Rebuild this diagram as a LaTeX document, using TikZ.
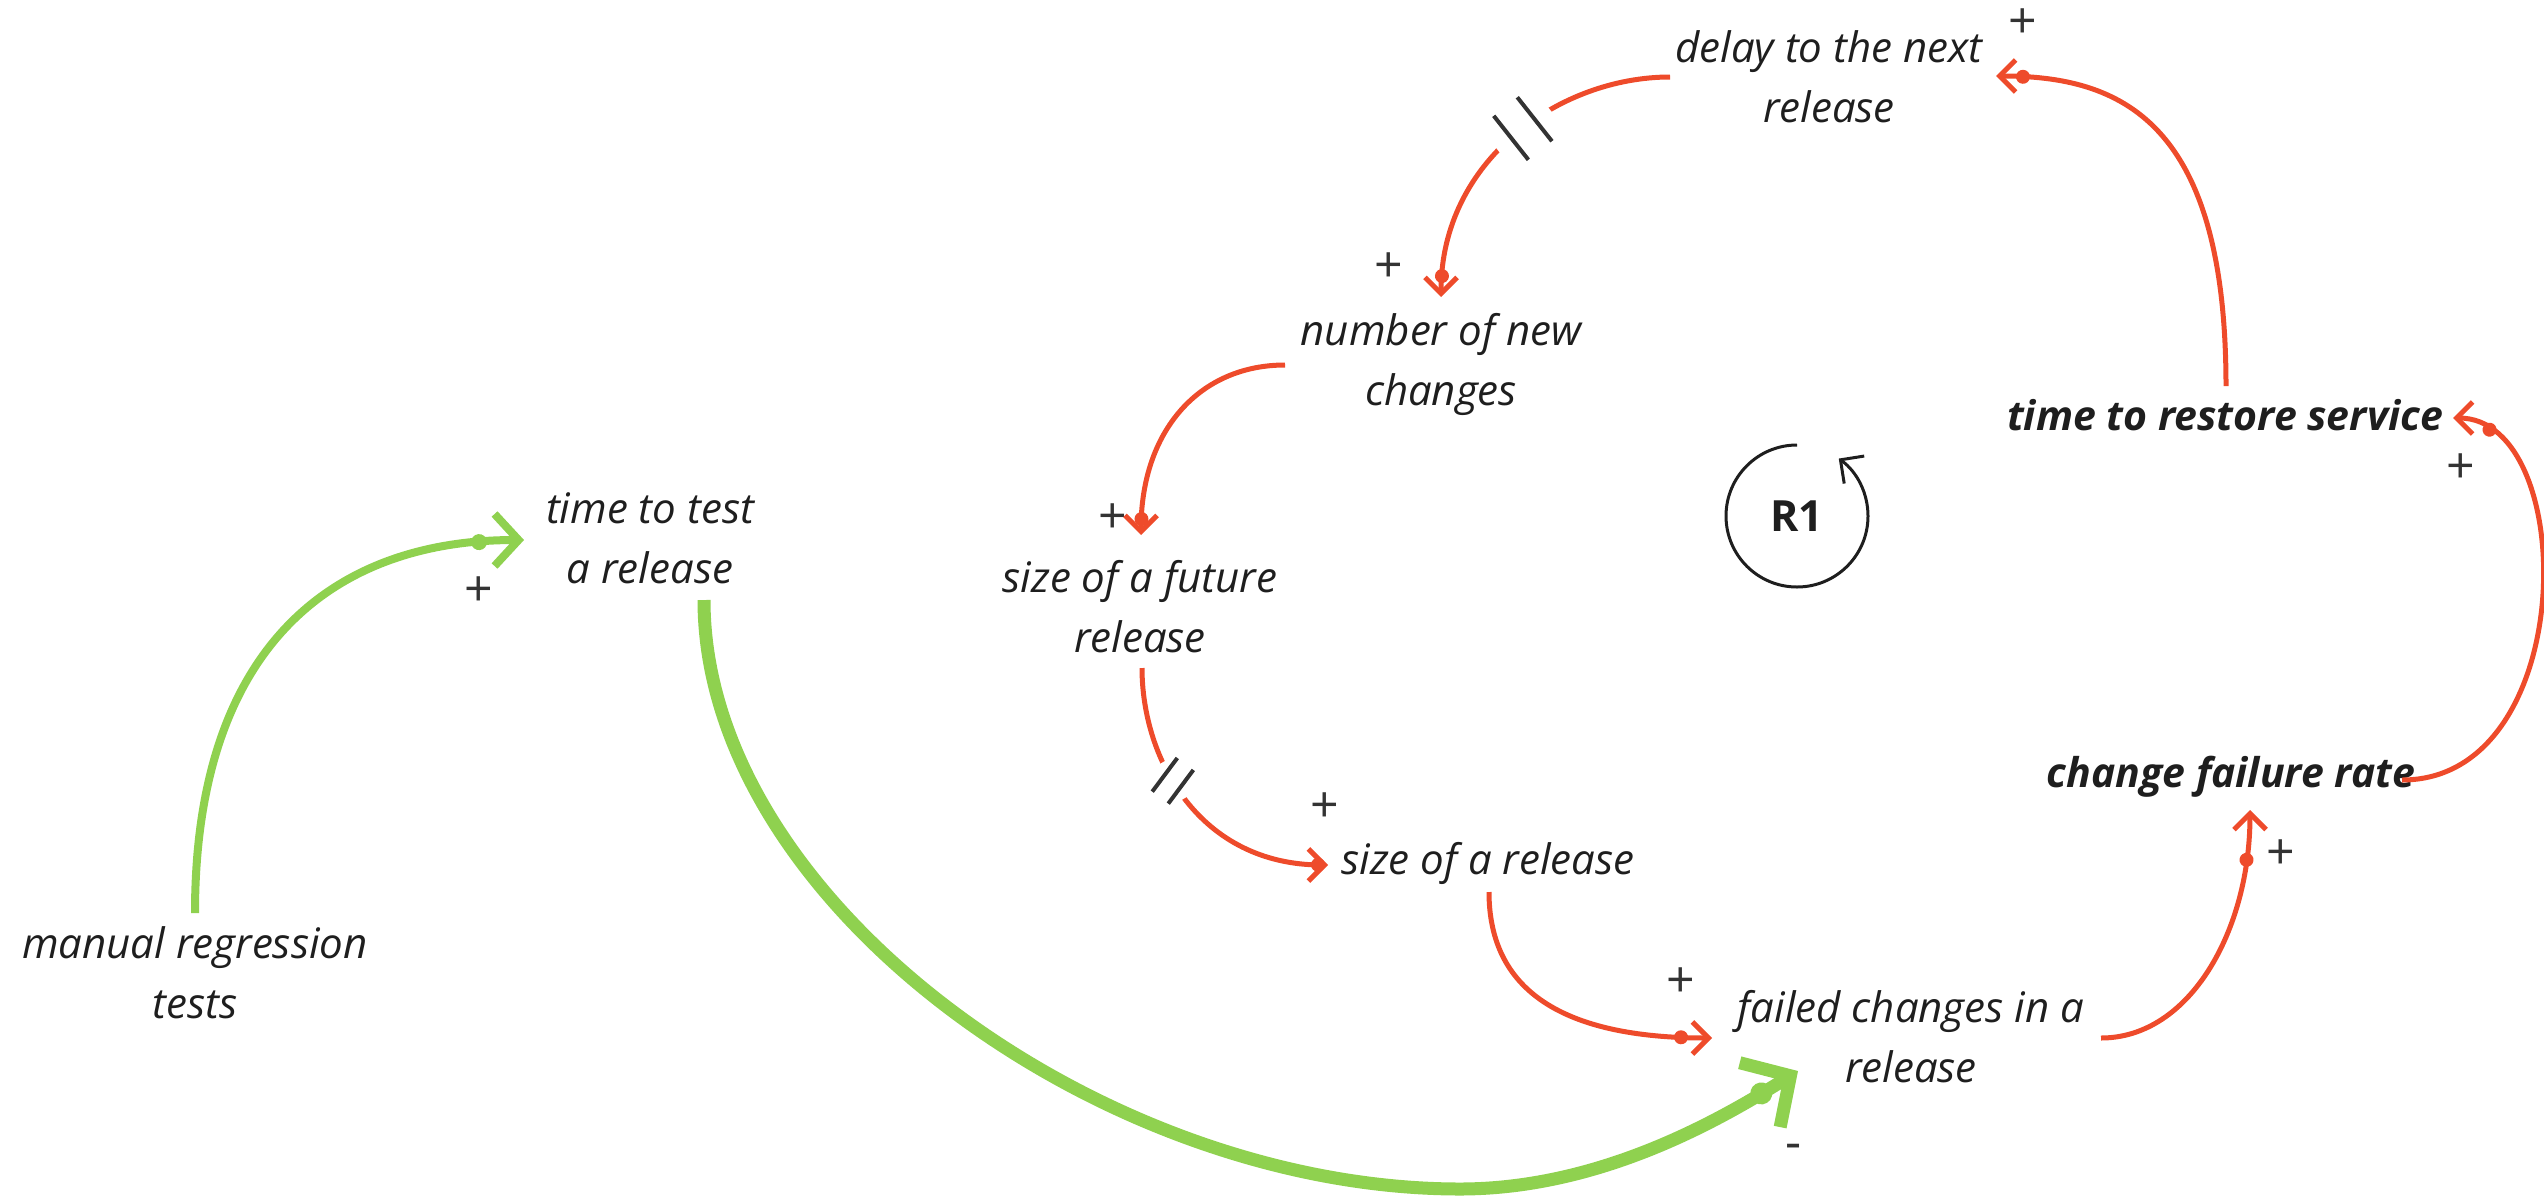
\documentclass[tikz,border=0pt]{standalone}
\usepackage{fontspec}
\setmainfont{Open Sans}
\usetikzlibrary{arrows.meta,calc,decorations.markings}
\definecolor{linkred}{HTML}{EE4B2B}
\definecolor{linkgreen}{HTML}{8FD14F}
\definecolor{ink}{HTML}{1E1E1E}
\definecolor{signgray}{HTML}{333333}
\tikzset{
  var/.style={font=\fontsize{42}{60}\selectfont\itshape, text=ink, align=center, inner sep=0pt},
  keyvar/.style={font=\fontsize{41}{60}\selectfont\bfseries\itshape, text=ink, align=center, inner sep=0pt},
  loopname/.style={font=\fontsize{43}{43}\selectfont\bfseries, text=ink, inner sep=0pt},
  sign/.style={font=\fontsize{50}{50}\selectfont, text=signgray, inner sep=0pt},
  redlink/.style={draw=linkred, line width=5pt, -{Straight Barb[length=16pt,width=32pt]}},
  thingreen/.style={draw=linkgreen, line width=8pt, -{Straight Barb[length=24pt,width=52pt]}},
  thickgreen/.style={draw=linkgreen, line width=13pt, -{Straight Barb[length=36pt,width=76pt]}},
  reddot/.style={postaction={decorate, decoration={markings,
      mark=at position -#1 with {\fill[linkred] (0,0) circle (7pt);}}}},
  greendot/.style 2 args={postaction={decorate, decoration={markings,
      mark=at position -#1 with {\fill[linkgreen] (0,0) circle (#2);}}}},
  % delay sign: position, tilt, half length, half spacing, half gap
  delaymark/.style n args={5}{postaction={decorate, decoration={markings,
      mark=at position #1 with {
        \fill[white] (-#5,-7) rectangle (#5,7);
        \begin{scope}[rotate=#2]
          \draw[-, signgray, line width=4pt] (-#4,-#3) -- (-#4,#3) (#4,-#3) -- (#4,#3);
        \end{scope}}}}},
  loopline/.style={draw=ink, line width=3pt, -{Straight Barb[length=17pt,width=34pt]}}
}
\begin{document}
\begin{tikzpicture}[x=1pt,y=-1pt]
\useasboundingbox (0,0) rectangle (2544,1195);

% variables of the loop
\node[var] (delay) at (1829,77) {delay to the next\\release};
\node[var] (num) at (1441,364) {number of new\\changes};
\node[var] (sfr) at (1140,607) {size of a future\\release};
\node[var] (sr) at (1488,863) {size of a release};
\node[var] (fc) at (1911,1037) {failed changes in a\\release};
\node[keyvar] (cfr) at (2231,777) {change failure rate};
\node[keyvar] (trs) at (2225,415) {time to restore service};
\node[var] (ttt) at (650,538) {time to test\\a release};
\node[var] (mrt) at (195,973) {manual regression\\tests};

% reinforcing loop marker
\node[loopname] (r1) at (1797,516) {R1};
\draw[loopline] ($(r1)+(-90:71)$) arc[start angle=-90, end angle=-414, radius=71];

% polarity signs
\node[sign] (sa) at (2023,24) {+};
\node[sign] (sb) at (1389,268) {+};
\node[sign] (sc) at (1113,519) {+};
\node[sign] (sd) at (1325,808) {+};
\node[sign] (se) at (1681,983) {+};
\node[sign] (sf) at (2281,855) {+};
\node[sign] (sg) at (2461,469) {+};
\node[sign] (sh) at (479,592) {+};
\node[sign] (si) at (1794,1152) {-};

% causal links of the loop
\draw[redlink, reddot=27pt] ($(trs)+(1,-29)$) .. controls +(0,-266) and +(124,0) .. ($(delay)+(167,-1)$);
\draw[redlink, reddot=21pt, delaymark={0.45}{0}{28}{15}{33}] ($(delay)+(-159,0)$) .. controls +(-110,0) and +(0,-137) .. ($(num)+(0,-67)$);
\draw[redlink, reddot=16pt] ($(num)+(-156,1)$) .. controls +(-85,0) and +(0,-105) .. ($(sfr)+(1,-72)$);
\draw[redlink, reddot=10pt, delaymark={0.39}{22}{21}{10}{21}] ($(sfr)+(2,61)$) .. controls +(0,92) and +(-128,0) .. ($(sr)+(-160,2)$);
\draw[redlink, reddot=31pt] ($(sr)+(1,29)$) .. controls +(0,98) and +(-150,0) .. ($(fc)+(-199,1)$);
\draw[redlink, reddot=50pt] ($(fc)+(190,1)$) .. controls +(89,0) and +(0,120) .. ($(cfr)+(19,33)$);
\draw[redlink, reddot=39pt] ($(cfr)+(171,3)$) .. controls +(178,0) and +(127,0) .. ($(trs)+(228,3)$);

% testing links
\draw[thingreen, greendot={45pt}{8pt}] ($(mrt)+(0,-60)$) .. controls +(0,-263) and +(-194,0) .. ($(ttt)+(-126,2)$);
\coordinate (ibot) at (1460,1189);
\draw[thickgreen, greendot={43pt}{11pt}] ($(ttt)+(54,62)$) .. controls +(0,300) and +(-360,0) .. (ibot)
  .. controls +(140,0) and +(-78,49) .. ($(fc)+(-113,34)$);
\end{tikzpicture}
\end{document}
